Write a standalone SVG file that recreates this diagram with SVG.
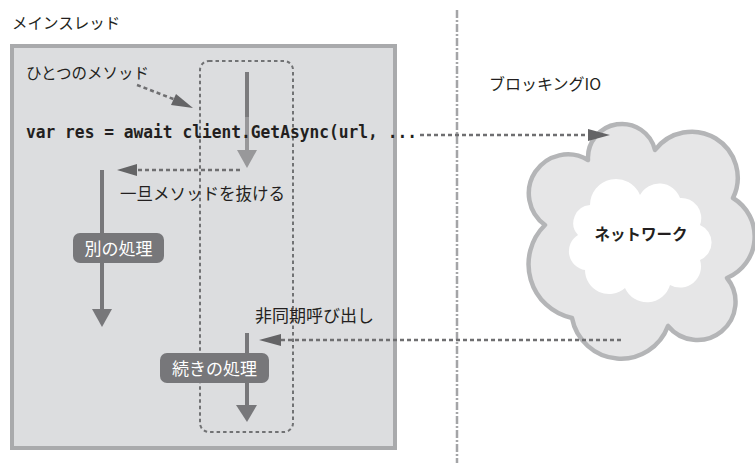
<svg xmlns="http://www.w3.org/2000/svg" width="755" height="463" viewBox="0 0 755 463">
<style>
.jp{font-family:"Noto Sans CJK JP","Noto Sans",sans-serif;fill:#231f20}
.lbl{font-family:"Noto Sans CJK JP","Noto Sans",sans-serif;fill:#ffffff;font-size:17px}
.code{font-family:"DejaVu Sans Mono","Liberation Mono",monospace;font-weight:bold;font-size:17px;fill:#231f20}
.dot{fill:none;stroke:#6f6f71;stroke-width:2.5;stroke-dasharray:4 3}
.flow{fill:none;stroke:#77777a;stroke-width:4}
.head{fill:#77777a}
.dhead{fill:#646466}
.pill{fill:#77777a}
</style>
<rect width="755" height="463" fill="#ffffff"/>

<g id="main-thread">
<rect x="12" y="46" width="383" height="402" fill="#dcdddf" stroke="#a9aaac" stroke-width="4"/>
<text class="jp" x="12" y="29" font-size="15.5">メインスレッド</text>
</g>

<g id="method-box">
<rect x="200" y="61" width="93" height="371" rx="9" fill="none" stroke="#717274" stroke-width="2" stroke-dasharray="3.5 3"/>
<text class="jp" x="26" y="79" font-size="15.5">ひとつのメソッド</text>
</g>

<g id="separator">
<line x1="457" y1="10" x2="457" y2="463" stroke="#a4a5a7" stroke-width="2.5" stroke-dasharray="8 2 2 2"/>
<text class="jp" x="489" y="90" font-size="16">ブロッキングIO</text>
</g>

<g id="network">
<path d="M588,160 A34,34 0 0 1 655,150 A46,46 0 0 1 733,198 A45,45 0 0 1 727,278 A38,38 0 0 1 668,326 A50,50 0 0 1 572,318 A55,55 0 0 1 545,225 A39,39 0 0 1 588,160 Z" fill="#e6e6e7" stroke="#b4b5b7" stroke-width="4.5" stroke-linejoin="round"/>
<path d="M590,205 A26,26 0 0 1 640,195 A22,22 0 0 1 680,198 A20,20 0 0 1 700,225 A19,19 0 0 1 700,260 A21,21 0 0 1 670,285 A24,24 0 0 1 625,288 A24,24 0 0 1 585,270 A19,19 0 0 1 578,235 A18,18 0 0 1 590,205 Z" fill="#ffffff"/>
<text class="jp" x="641" y="240" font-size="15.5" font-weight="bold" text-anchor="middle">ネットワーク</text>
</g>

<g id="connectors">
<!-- method flow arrow -->
<line x1="247" y1="72" x2="247" y2="117" stroke="#7b7b7d" stroke-width="4"/>
<line x1="247" y1="117" x2="247" y2="152" stroke="#98989a" stroke-width="4"/>
<polygon points="237,150 257,150 247,168" fill="#98989a"/>
<!-- pointer from label to method box -->
<line class="dot" x1="137" y1="85" x2="176" y2="100"/>
<polygon class="dhead" points="193,108 171,105 176,94"/>
<!-- exit method -->
<line class="dot" x1="240" y1="170" x2="134" y2="170"/>
<polygon class="dhead" points="117,170 137,164 137,176"/>
<!-- other work flow -->
<line class="flow" x1="102" y1="170" x2="102" y2="311"/>
<polygon class="head" points="92,309 112,309 102,327"/>
<!-- blocking IO to network -->
<line class="dot" x1="420" y1="135" x2="590" y2="135"/>
<polygon class="dhead" points="610,135 588,129 588,141"/>
<!-- async callback -->
<line class="dot" x1="621" y1="340" x2="277" y2="340"/>
<polygon class="dhead" points="259,340 281,334 281,346"/>
<!-- continuation flow -->
<line class="flow" x1="247" y1="333" x2="247" y2="407"/>
<polygon class="head" points="236,405 257,405 247,422"/>
</g>

<g id="code-line">
<text class="code" x="26" y="138" textLength="391" lengthAdjust="spacingAndGlyphs">var res = await client.GetAsync(url, ...</text>
</g>

<g id="other-work">
<rect class="pill" x="73" y="233" width="91" height="30" rx="7"/>
<text class="lbl" x="118.5" y="255" text-anchor="middle">別の処理</text>
</g>

<g id="continuation">
<rect class="pill" x="160" y="353" width="109" height="30" rx="7"/>
<text class="lbl" x="214.5" y="375" text-anchor="middle">続きの処理</text>
</g>

<g id="labels">
<text class="jp" x="120" y="200" font-size="16.5">一旦メソッドを抜ける</text>
<text class="jp" x="255" y="322" font-size="17">非同期呼び出し</text>
</g>
</svg>
